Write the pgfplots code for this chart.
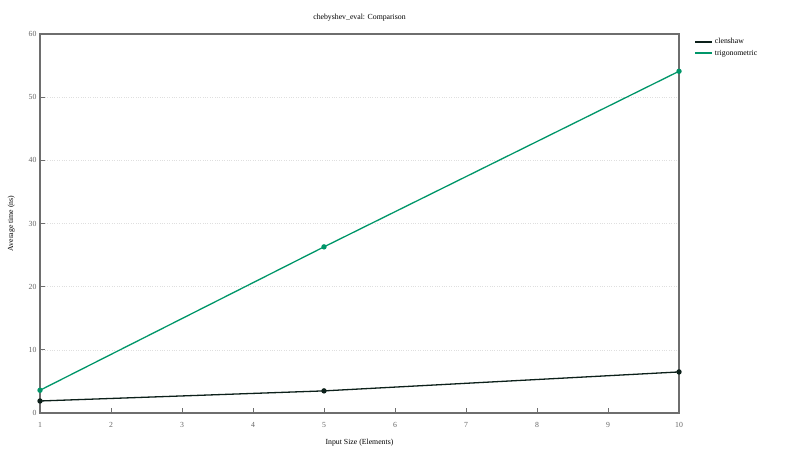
\documentclass[border=0pt]{standalone}
\usepackage{pgfplots}
\pgfplotsset{compat=1.18}
\usepackage{fontspec}
\setmainfont{Liberation Serif}
\definecolor{clen}{RGB}{12,32,26}
\definecolor{trig}{RGB}{0,150,105}
\definecolor{axgray}{RGB}{110,110,110}
\begin{document}
\begin{tikzpicture}[x=1bp,y=1bp]
\path[use as bounding box] (0,0) rectangle (800,450);
\begin{axis}[
  at={(40bp,37bp)}, anchor=south west,
  width=639bp, height=379bp, scale only axis,
  xmin=1, xmax=10, ymin=0, ymax=60,
  xtick={1,...,10}, ytick={0,10,...,60},
  tick align=inside, xtick pos=bottom, ytick pos=left,
  major tick length=5bp,
  tick style={axgray, line width=0.8bp},
  axis line style={axgray, line width=1.4bp},
  ymajorgrids, grid style={dotted, gray!25, line width=0.6bp},
  font=\fontsize{7.8}{9}\selectfont,
  tick label style={font=\fontsize{7.8}{9}\selectfont, text=black!60},
  /pgf/number format/assume math mode=true,
  title={chebyshev\_eval: Comparison},
  title style={at={(0.5,1)}, anchor=south, yshift=3bp, font=\fontsize{7.8}{9}\selectfont},
  xlabel={Input Size (Elements)},
  ylabel={Average time (ns)},
  xlabel style={font=\fontsize{7.8}{9}\selectfont, yshift=-5bp},
  ylabel style={font=\fontsize{7.8}{9}\selectfont, yshift=7bp},
  xticklabel style={yshift=-6bp},
  legend style={at={(1,1)}, anchor=north west, xshift=12bp, yshift=0bp, draw=none, fill=none, font=\fontsize{7.8}{9}\selectfont, row sep=1bp},
  legend cell align=left,
  legend image code/.code={\draw[#1, mark=none, line width=1.8bp] (0bp,0bp) -- (17bp,0bp);},
]
\addplot[color=clen, line width=1.3bp, mark=*, mark size=2bp, mark options={fill=clen}] coordinates {(1,1.9) (5,3.5) (10,6.5)};
\addlegendentry{clenshaw}
\addplot[color=trig, line width=1.3bp, mark=*, mark size=2bp, mark options={fill=trig}] coordinates {(1,3.6) (5,26.3) (10,54.1)};
\addlegendentry{trigonometric}
\end{axis}
\end{tikzpicture}
\end{document}
